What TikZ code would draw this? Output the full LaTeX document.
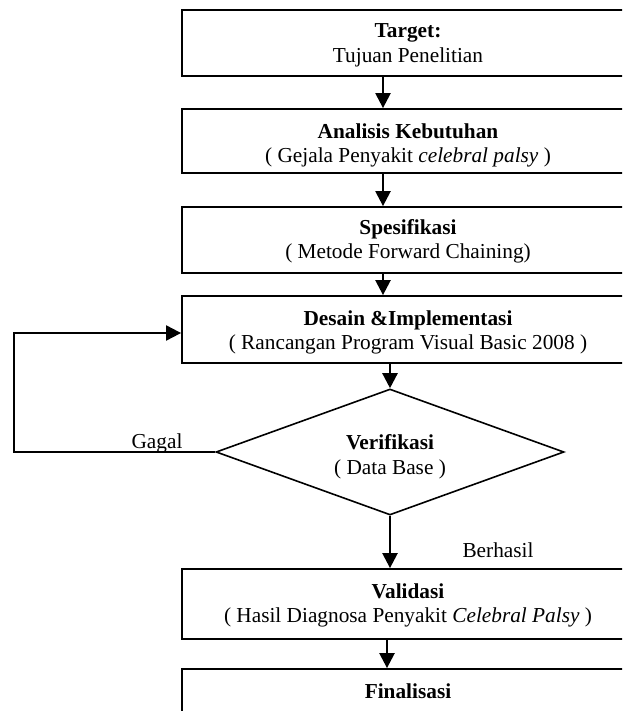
\documentclass[tikz,border=0pt]{standalone}
\usepackage{fontspec}
\setmainfont{Liberation Serif}
\usetikzlibrary{arrows.meta,shapes.geometric}
\begin{document}
\begin{tikzpicture}[x=1pt,y=-1pt,
  box/.style={draw,line width=1.8pt,rectangle,minimum width=452pt,inner sep=0pt},
  dia/.style={draw,line width=1.6pt,diamond,minimum width=348pt,minimum height=126pt,inner sep=0pt,aspect=2.76},
  txt/.style={anchor=base,inner sep=0pt,font=\fontsize{21.3}{25}\selectfont},
  arr/.style={line width=2.4pt,-{Triangle[length=15pt,width=15pt]}},
  looparr/.style={line width=2pt,-{Triangle[length=15pt,width=15pt]}}]
\useasboundingbox (0,0) rectangle (622,711);
\clip (0,0) rectangle (622,711);
% boxes
\node[box,minimum height=66pt] (b1) at (408,43) {};
\node[box,minimum height=64pt] (b2) at (408,141) {};
\node[box,minimum height=66pt] (b3) at (408,240) {};
\node[box,minimum height=67pt] (b4) at (408,329.5) {};
\node[dia] (d) at (390,452) {};
\node[box,minimum height=70pt] (b5) at (408,604) {};
\node[box,minimum height=80pt] (b6) at (408,709) {};
% texts
\node[txt] (t1a) at (408,38) {\textbf{Target:}};
\node[txt] (t1b) at (408,63) {Tujuan Penelitian};
\node[txt] (t2a) at (408,139) {\textbf{Analisis Kebutuhan}};
\node[txt] (t2b) at (408,163) {( Gejala Penyakit \textit{celebral palsy} )};
\node[txt] (t3a) at (408,234) {\textbf{Spesifikasi}};
\node[txt] (t3b) at (408,258) {( Metode Forward Chaining)};
\node[txt] (t4a) at (408,325) {\textbf{Desain \&Implementasi}};
\node[txt] (t4b) at (408,349) {( Rancangan Program Visual Basic 2008 )};
\node[txt] (tda) at (390,449) {\textbf{Verifikasi}};
\node[txt] (tdb) at (390,474) {( Data Base )};
\node[txt] (t5a) at (408,598) {\textbf{Validasi}};
\node[txt] (t5b) at (408,622) {( Hasil Diagnosa Penyakit \textit{Celebral Palsy} )};
\node[txt] (t6a) at (408,698) {\textbf{Finalisasi}};
\node[txt] (gagal) at (157,448) {Gagal};
\node[txt] (berhasil) at (498,557) {Berhasil};
% connectors
\coordinate (ax) at (383,0);
\coordinate (ax2) at (387,0);
\draw[arr] (b1.south -| ax) -- (b2.north -| ax);
\draw[arr] (b2.south -| ax) -- (b3.north -| ax);
\draw[arr] (b3.south -| ax) -- (b4.north -| ax);
\draw[arr] (b4.south -| d.north) -- (d.north);
\draw[arr] (d.south) -- (b5.north -| d.south);
\draw[arr] (b5.south -| ax2) -- (b6.north -| ax2);
\coordinate (lp) at (14,333);
\draw[looparr] (d.west) -- (d.west -| lp) -- (lp) -- (b4.west |- lp);
\end{tikzpicture}
\end{document}
